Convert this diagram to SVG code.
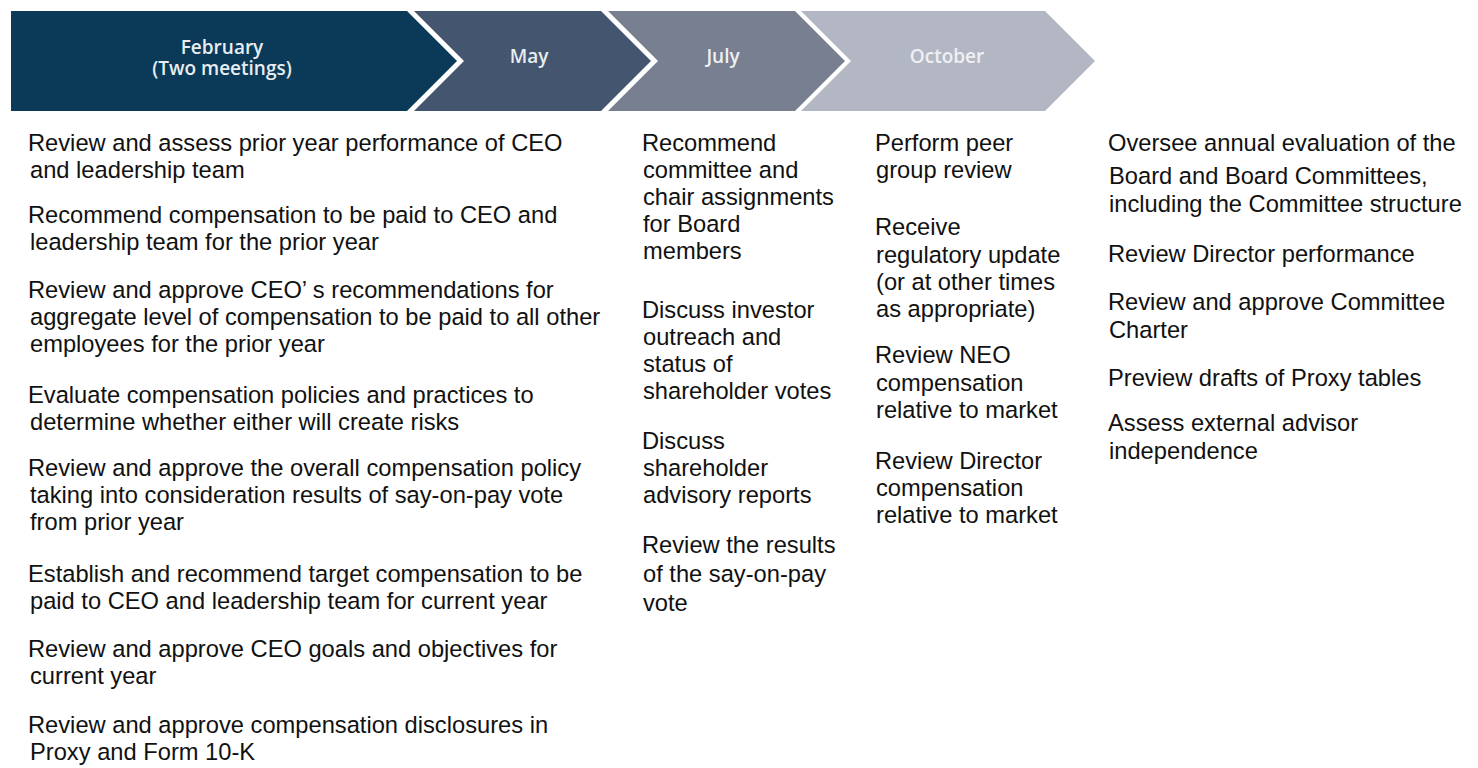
<svg xmlns="http://www.w3.org/2000/svg" width="1478" height="768" viewBox="0 0 1478 768">
<style>
.hd{font-family:"Open Sans","Liberation Sans",sans-serif;font-weight:600;font-size:19px;text-anchor:middle}
.tx{font-family:"Liberation Sans",Arial,sans-serif;font-size:23.7px;fill:#111}
</style>
<rect width="1478" height="768" fill="#fff"/>
<g id="feb">
<polygon points="11,11 407,11 457,61 407,111 11,111" fill="#0b3a58"/>
<text class="hd" x="222" y="54" fill="#e8edf2">February</text>
<text class="hd" x="222" y="75" fill="#e8edf2">(Two meetings)</text>
</g>
<g id="may">
<polygon points="414,11 601,11 651,61 601,111 414,111 464,61" fill="#44566f"/>
<text class="hd" x="529" y="63" fill="#e8edf2">May</text>
</g>
<g id="july">
<polygon points="608,11 795,11 845,61 795,111 608,111 658,61" fill="#777f90"/>
<text class="hd" x="723" y="63" fill="#eef0f3">July</text>
</g>
<g id="october">
<polygon points="801,11 1045,11 1095,61 1045,111 801,111 851,61" fill="#b3b7c3"/>
<text class="hd" x="947" y="63" fill="#eef0f4">October</text>
</g>
<g id="feb-items" class="tx">
<text x="28" y="151">Review and assess prior year performance of CEO</text>
<text x="30" y="178">and leadership team</text>
<text x="28" y="223">Recommend compensation to be paid to CEO and</text>
<text x="30" y="250">leadership team for the prior year</text>
<text x="28" y="298">Review and approve CEO’ s recommendations for</text>
<text x="30" y="325">aggregate level of compensation to be paid to all other</text>
<text x="30" y="352">employees for the prior year</text>
<text x="28" y="403">Evaluate compensation policies and practices to</text>
<text x="30" y="430">determine whether either will create risks</text>
<text x="28" y="476">Review and approve the overall compensation policy</text>
<text x="30" y="503">taking into consideration results of say-on-pay vote</text>
<text x="30" y="530">from prior year</text>
<text x="28" y="582">Establish and recommend target compensation to be</text>
<text x="30" y="609">paid to CEO and leadership team for current year</text>
<text x="28" y="657">Review and approve CEO goals and objectives for</text>
<text x="30" y="684">current year</text>
<text x="28" y="733">Review and approve compensation disclosures in</text>
<text x="30" y="760">Proxy and Form 10-K</text>
</g>
<g id="may-items" class="tx">
<text x="642" y="151">Recommend</text>
<text x="643" y="178">committee and</text>
<text x="643" y="205">chair assignments</text>
<text x="643" y="232">for Board</text>
<text x="643" y="259">members</text>
<text x="642" y="318">Discuss investor</text>
<text x="643" y="345">outreach and</text>
<text x="643" y="372">status of</text>
<text x="643" y="399">shareholder votes</text>
<text x="642" y="449">Discuss</text>
<text x="643" y="476">shareholder</text>
<text x="643" y="503">advisory reports</text>
<text x="642" y="553">Review the results</text>
<text x="643" y="582">of the say-on-pay</text>
<text x="643" y="611">vote</text>
</g>
<g id="july-items" class="tx">
<text x="875" y="151">Perform peer</text>
<text x="876" y="178">group review</text>
<text x="875" y="235">Receive</text>
<text x="876" y="263">regulatory update</text>
<text x="876" y="290">(or at other times</text>
<text x="876" y="317">as appropriate)</text>
<text x="875" y="363">Review NEO</text>
<text x="876" y="391">compensation</text>
<text x="876" y="418">relative to market</text>
<text x="875" y="469">Review Director</text>
<text x="876" y="496">compensation</text>
<text x="876" y="523">relative to market</text>
</g>
<g id="october-items" class="tx">
<text x="1108" y="151">Oversee annual evaluation of the</text>
<text x="1109" y="184">Board and Board Committees,</text>
<text x="1109" y="212">including the Committee structure</text>
<text x="1108" y="262">Review Director performance</text>
<text x="1108" y="310">Review and approve Committee</text>
<text x="1109" y="338">Charter</text>
<text x="1108" y="386">Preview drafts of Proxy tables</text>
<text x="1108" y="431">Assess external advisor</text>
<text x="1109" y="459">independence</text>
</g>
</svg>
